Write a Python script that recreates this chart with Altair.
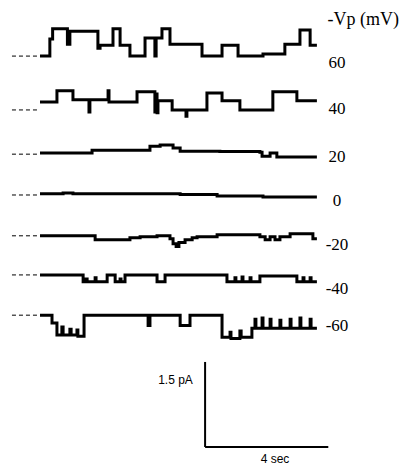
import altair as alt
import pandas as pd

# ---- recorded traces: time (s) and current (pA) relative to the closed level ----
t_p60 = [0.00, 0.32, 0.41, 0.89, 0.97, 1.88, 1.95, 2.37, 2.60, 2.92, 3.41, 3.73, 3.77, 3.96, 4.22, 5.26, 5.91, 6.43, 7.24, 7.95, 8.44, 8.77, 8.99]
i_p60 = [0.00, 0.30, 0.48, 0.21, 0.44, 0.14, 0.19, 0.48, 0.19, 0.00, 0.32, 0.00, 0.32, 0.48, 0.21, 0.00, 0.19, 0.00, 0.035, 0.21, 0.46, 0.19, 0.19]

t_p40 = [0.00, 0.55, 1.07, 1.59, 1.62, 2.21, 2.24, 3.15, 3.73, 3.77, 3.80, 3.83, 4.29, 4.74, 4.77, 5.42, 5.91, 6.49, 7.56, 8.34, 8.99]
i_p40 = [0.14, 0.34, 0.18, -0.035, 0.18, 0.34, 0.14, 0.32, -0.035, 0.28, -0.05, 0.16, 0.00, -0.11, 0.00, 0.30, 0.16, 0.00, 0.32, 0.16, 0.16]

t_p20 = [0.00, 1.69, 3.57, 3.90, 4.32, 4.55, 5.84, 7.14, 7.21, 7.47, 7.69, 8.99]
i_p20 = [0.02, 0.07, 0.14, 0.16, 0.11, 0.05, 0.045, 0.035, -0.035, 0.02, -0.05, -0.05]

t_0 = [0.00, 0.75, 1.07, 4.55, 5.75, 7.24, 8.99]
i_0 = [0.02, 0.035, 0.02, 0.01, -0.02, -0.035, -0.035]

t_m20 = [0.00, 1.79, 2.92, 3.25, 3.80, 4.22, 4.32, 4.42, 4.51, 4.71, 4.94, 5.10, 5.75, 7.14, 7.31, 7.47, 7.63, 7.79, 8.12, 8.86, 8.99]
i_m20 = [0.00, -0.07, -0.035, -0.018, 0.00, -0.05, -0.14, -0.19, -0.12, -0.07, -0.035, -0.018, 0.018, -0.018, -0.07, -0.018, -0.07, -0.018, 0.035, -0.05, -0.05]

t_m40 = [0.00, 1.40, 1.49, 1.53, 1.79, 1.82, 2.18, 2.44, 2.60, 2.63, 2.76, 3.80, 4.06, 6.07, 6.33, 6.36, 6.56, 6.59, 6.82, 6.85, 7.14, 8.34, 8.54, 8.57, 8.77, 8.80, 8.99]
i_m40 = [0.00, -0.12, -0.07, -0.12, -0.05, -0.12, 0.00, -0.12, -0.07, -0.12, 0.00, -0.12, 0.00, -0.12, -0.05, -0.12, -0.035, -0.12, -0.05, -0.12, -0.018, -0.12, -0.05, -0.12, -0.05, -0.12, -0.12]

t_m60 = [0.00, 0.39, 0.55, 0.71, 0.75, 0.97, 1.01, 1.20, 1.23, 1.43, 3.51, 3.57, 4.55, 4.87, 5.91, 6.17, 6.20, 6.49, 6.53, 6.88, 6.98, 7.01, 7.21, 7.24, 7.47, 7.50, 7.79, 7.82, 8.12, 8.15, 8.44, 8.47, 8.77, 8.80, 8.99]
i_m60 = [0.00, -0.14, -0.35, -0.21, -0.35, -0.25, -0.35, -0.26, -0.37, 0.00, -0.18, 0.00, -0.18, 0.00, -0.39, -0.30, -0.41, -0.28, -0.39, -0.23, -0.07, -0.23, -0.05, -0.23, -0.07, -0.23, -0.09, -0.23, -0.07, -0.23, -0.05, -0.23, -0.07, -0.23, -0.23]

voltages = ["60", "40", "20", "0", "-20", "-40", "-60"]
traces_t = [t_p60, t_p40, t_p20, t_0, t_m20, t_m40, t_m60]
traces_i = [i_p60, i_p40, i_p20, i_0, i_m20, i_m40, i_m60]

# scale bars
bar_time_s = 4
bar_current_pA = 1.5

# ---- layout (positions in axis units / pixels) ----
W, H = 392, 458
x_dom = [-1.039, 11.688]
y_dom = [0, 8.078]
row_offset = [7.23, 6.28, 5.50, 4.78, 4.06, 3.37, 2.66]
label_py = [54.5, 100.5, 149, 193, 237, 281, 318]
bar_x0, bar_y0 = 5.36, 0.335

rows = []
for v, ts, cs, off in zip(voltages, traces_t, traces_i, row_offset):
    for k, (t, c) in enumerate(zip(ts, cs)):
        rows.append({"trace": v, "k": k, "t": t, "y": c + off})
df = pd.DataFrame(rows)

xs = alt.Scale(domain=x_dom, nice=False, zero=False)
ys = alt.Scale(domain=y_dom, nice=False, zero=False)

traces = alt.Chart(df).mark_line(interpolate="step-after", color="black", strokeWidth=3).encode(
    x=alt.X("t:Q", scale=xs, axis=None),
    y=alt.Y("y:Q", scale=ys, axis=None),
    detail="trace:N",
    order="k:Q",
)

dash_df = pd.DataFrame({"trace": voltages, "x1": -0.91, "x2": -0.07, "y": row_offset})
dashes = alt.Chart(dash_df).mark_rule(color="black", strokeWidth=1, strokeDash=[4, 3]).encode(
    x=alt.X("x1:Q", scale=xs, axis=None), x2="x2:Q",
    y=alt.Y("y:Q", scale=ys, axis=None),
)

lab_df = pd.DataFrame({"v": voltages, "py": label_py})
labels = alt.Chart(lab_df).mark_text(font="Liberation Serif", fontSize=17, align="center", baseline="middle", color="black").encode(
    x=alt.value(329), y=alt.Y("py:Q", scale=None), text="v:N"
)
header = alt.Chart(pd.DataFrame({"s": ["-Vp (mV)"]})).mark_text(
    font="Liberation Serif", fontSize=18, align="right", baseline="middle", color="black"
).encode(x=alt.value(391), y=alt.value(12), text="s:N")

vbar_df = pd.DataFrame({"x": [bar_x0], "y1": [bar_y0], "y2": [bar_y0 + bar_current_pA]})
vbar = alt.Chart(vbar_df).mark_rule(color="black", strokeWidth=2).encode(
    x=alt.X("x:Q", scale=xs, axis=None), y=alt.Y("y1:Q", scale=ys, axis=None), y2="y2:Q"
)
hbar_df = pd.DataFrame({"x1": [bar_x0], "x2": [bar_x0 + bar_time_s], "y": [bar_y0]})
hbar = alt.Chart(hbar_df).mark_rule(color="black", strokeWidth=2).encode(
    x=alt.X("x1:Q", scale=xs, axis=None), x2="x2:Q", y=alt.Y("y:Q", scale=ys, axis=None)
)
pa_txt = alt.Chart(pd.DataFrame({"s": ["1.5 pA"]})).mark_text(
    font="Liberation Sans", fontSize=12, align="center", baseline="middle", color="black"
).encode(x=alt.value(167.5), y=alt.value(372), text="s:N")
sec_txt = alt.Chart(pd.DataFrame({"s": ["4 sec"]})).mark_text(
    font="Liberation Sans", fontSize=12, align="center", baseline="middle", color="black"
).encode(x=alt.value(267), y=alt.value(451), text="s:N")

chart = alt.layer(dashes, traces, labels, header, vbar, hbar, pa_txt, sec_txt).properties(
    width=W, height=H, padding=0, autosize=alt.AutoSizeParams(type="none")
).configure_view(stroke=None)

chart.save("out.html", embed_options={"renderer": "svg", "actions": False})
